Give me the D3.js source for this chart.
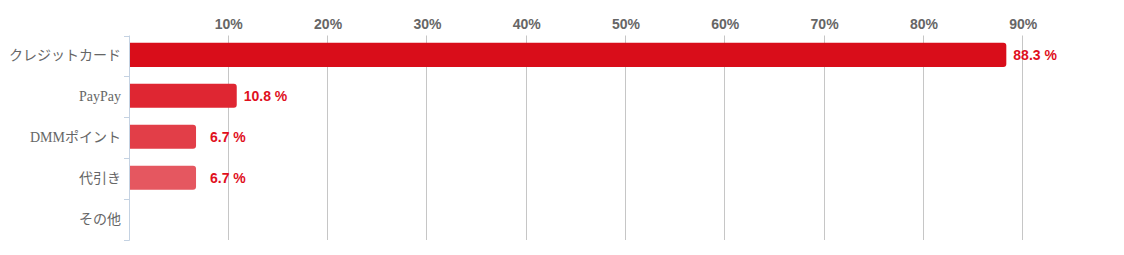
<!DOCTYPE html>
<html>
<head>
<meta charset="utf-8">
<script src="https://cdn.jsdelivr.net/npm/d3@7"></script>
<style>
  body { margin: 0; background: #fff; }
</style>
</head>
<body>
<div id="chart"></div>
<script>
var categories = ["クレジットカード", "PayPay", "DMMポイント", "代引き", "その他"];
var values = [88.3, 10.8, 6.7, 6.7, 0];
var barColors = ["#d90d1a", "#df2632", "#e23e48", "#e55760", "#e8707a"];
var tickValues = [10, 20, 30, 40, 50, 60, 70, 80, 90];

var width = 1124, height = 255;
var margin = {top: 35.5, right: 1.5, bottom: 15, left: 129.5};
var plotBottom = 240;

var svg = d3.select("#chart").append("svg")
    .attr("width", width)
    .attr("height", height);

var x = d3.scaleLinear()
    .domain([0, 100])
    .range([margin.left, width - margin.right]);

// rows (for axis ticks) and bars (a little above row centre)
var rows = d3.scaleBand()
    .domain(categories)
    .range([margin.top, plotBottom]);

var y = d3.scaleBand()
    .domain(categories)
    .range([margin.top - 1, plotBottom - 1])
    .paddingInner(0.41)
    .paddingOuter(0.2);

// grid lines
svg.append("g")
    .selectAll("line")
    .data(tickValues)
    .join("line")
        .attr("x1", d => Math.round(x(d)) - 0.5)
        .attr("x2", d => Math.round(x(d)) - 0.5)
        .attr("y1", margin.top)
        .attr("y2", plotBottom)
        .attr("stroke", "#c6c6c6")
        .attr("stroke-width", 1);

// top tick labels
svg.append("g")
    .selectAll("text")
    .data(tickValues)
    .join("text")
        .attr("x", d => x(d))
        .attr("y", 29)
        .attr("text-anchor", "middle")
        .attr("font-family", "'Liberation Sans', Arial, sans-serif")
        .attr("font-weight", "bold")
        .attr("font-size", 14)
        .attr("fill", "#666")
        .text(d => d + "%");

// bars, square on the left, rounded on the right
var barPath = function(d, i) {
    var x0 = margin.left + 0.5, x1 = x(values[i]);
    var y0 = y(d), h = y.bandwidth(), r = Math.min(3, x1 - x0);
    if (x1 - x0 <= 0) return null;
    return "M" + x0 + "," + y0 +
        "H" + (x1 - r) +
        "Q" + x1 + "," + y0 + " " + x1 + "," + (y0 + r) +
        "V" + (y0 + h - r) +
        "Q" + x1 + "," + (y0 + h) + " " + (x1 - r) + "," + (y0 + h) +
        "H" + x0 + "Z";
};

svg.append("g")
    .selectAll("path")
    .data(categories)
    .join("path")
        .attr("d", barPath)
        .attr("fill", (d, i) => barColors[i]);

// value labels (small bars get pushed out a bit)
var minLabelPos = 7.4;
svg.append("g")
    .selectAll("text")
    .data(categories.filter((d, i) => values[i] > 0))
    .join("text")
        .attr("x", d => x(Math.max(values[categories.indexOf(d)], minLabelPos)) + 7)
        .attr("y", d => y(d) + y.bandwidth() / 2)
        .attr("dy", "0.36em")
        .attr("font-family", "'Liberation Sans', Arial, sans-serif")
        .attr("font-weight", "bold")
        .attr("font-size", 14)
        .attr("fill", "#e0101d")
        .text(d => values[categories.indexOf(d)].toFixed(1) + " %");

// y axis
var yAxis = svg.append("g")
    .attr("stroke", "#c4d2e2")
    .attr("stroke-width", 1);

yAxis.append("line")
    .attr("x1", 129.5).attr("x2", 129.5)
    .attr("y1", margin.top).attr("y2", plotBottom + 0.5);

var boundaries = categories.map(d => rows(d));
boundaries.push(plotBottom);
yAxis.selectAll("line.tick")
    .data(boundaries)
    .join("line")
        .attr("class", "tick")
        .attr("x1", 124)
        .attr("x2", 129.5)
        .attr("y1", d => Math.round(d) + 0.5)
        .attr("y2", d => Math.round(d) + 0.5);

svg.append("g")
    .selectAll("text")
    .data(categories)
    .join("text")
        .attr("x", 121)
        .attr("y", d => y(d) + y.bandwidth() / 2)
        .attr("dy", "0.36em")
        .attr("text-anchor", "end")
        .attr("font-family", "'Liberation Serif', 'Noto Sans CJK JP', serif")
        .attr("font-size", 14)
        .attr("fill", "#666")
        .text(d => d);
</script>
</body>
</html>
